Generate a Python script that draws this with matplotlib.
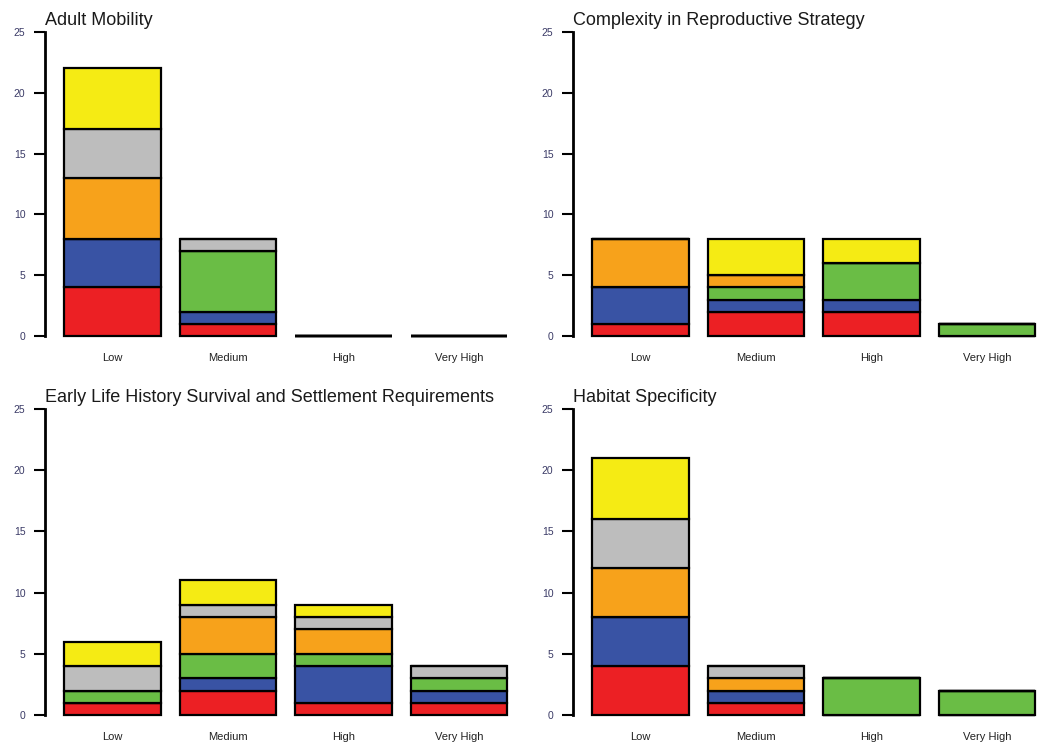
import numpy as np
import matplotlib
matplotlib.use('Agg')
import matplotlib.pyplot as plt

plt.rcParams['font.family'] = ['Liberation Sans', 'DejaVu Sans']

levels   = ['Low', 'Medium', 'High', 'Very High']
groups   = ['red', 'blue', 'green', 'orange', 'gray', 'yellow']
colors   = ['#EC2024', '#3953A4', '#6ABD45', '#F7A21B', '#BDBDBD', '#F5EB14']

titles = [
    'Adult Mobility',
    'Complexity in Reproductive Strategy',
    'Early Life History Survival and Settlement Requirements',
    'Habitat Specificity',
]

# rows: red, blue, green, orange, gray, yellow ; columns: Low, Medium, High, Very High
adult_mobility = [
    [4, 1, 0, 0],
    [4, 1, 0, 0],
    [0, 5, 0, 0],
    [5, 0, 0, 0],
    [4, 1, 0, 0],
    [5, 0, 0, 0],
]
complexity = [
    [1, 2, 2, 0],
    [3, 1, 1, 0],
    [0, 1, 3, 1],
    [4, 1, 0, 0],
    [0, 0, 0, 0],
    [0, 3, 2, 0],
]
early_life = [
    [1, 2, 1, 1],
    [0, 1, 3, 1],
    [1, 2, 1, 1],
    [0, 3, 2, 0],
    [2, 1, 1, 1],
    [2, 2, 1, 0],
]
habitat = [
    [4, 1, 0, 0],
    [4, 1, 0, 0],
    [0, 0, 3, 2],
    [4, 1, 0, 0],
    [4, 1, 0, 0],
    [5, 0, 0, 0],
]
panels = [adult_mobility, complexity, early_life, habitat]

W, H = 1040, 752
fig = plt.figure(figsize=(W / 100, H / 100), dpi=100)

# axes boxes in pixels: left, x-width, y of 0, y of 25
boxes = [
    (45, 462, 336, 32),
    (573, 462, 336, 32),
    (45, 462, 715, 409),
    (573, 462, 715, 409),
]

pos = 0.7 + 1.2 * np.arange(len(levels))

for data, title, (l, w, y0, y1) in zip(panels, titles, boxes):
    ax = fig.add_axes([l / W, 1 - y0 / H, w / W, (y0 - y1) / H])
    data   = np.array(data, dtype=float)
    bottom = np.zeros(len(levels))
    for vals, c in zip(data, colors):
        ax.bar(pos, vals, width=1.0, bottom=bottom, color=c,
               edgecolor='black', linewidth=1.6, clip_on=False)
        bottom += vals

    ax.set_xlim(0, 4.8)
    ax.set_ylim(0, 25)
    ax.set_yticks([0, 5, 10, 15, 20, 25])
    ax.set_xticks(pos)
    ax.set_xticklabels(levels, fontsize=8, color='#222222')
    ax.tick_params(axis='x', length=0, pad=12)
    ax.tick_params(axis='y', length=8, width=1.5, labelsize=7.5, labelcolor='#3a3a66', pad=6)
    for s in ['top', 'right', 'bottom']:
        ax.spines[s].set_visible(False)
    ax.spines['left'].set_linewidth(2)
    ax.spines['left'].set_bounds(0, 25)
    ax.set_title(title, loc='left', fontsize=13, pad=5, color='#1a1a1a')

fig.savefig('out.png', dpi=100)
